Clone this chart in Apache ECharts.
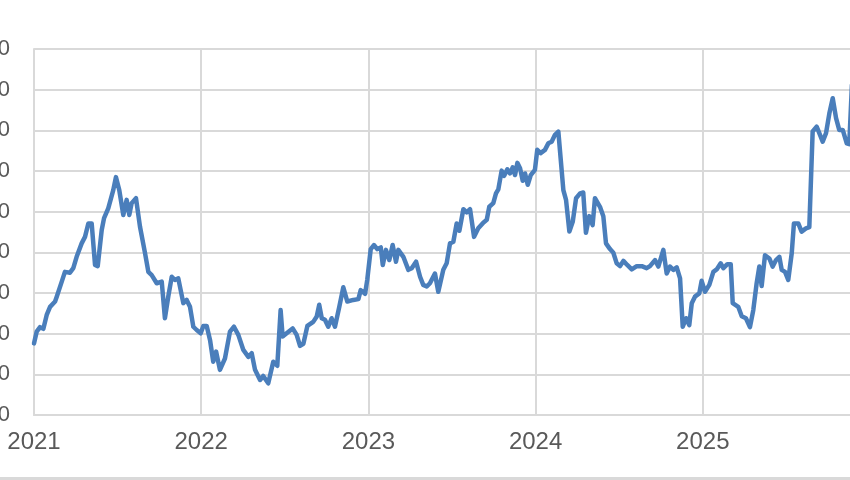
<!DOCTYPE html>
<html>
<head>
<meta charset="utf-8">
<script src="https://cdn.jsdelivr.net/npm/echarts@6/dist/echarts.min.js"></script>
<style>
  html, body { margin: 0; padding: 0; width: 850px; height: 480px; overflow: hidden; background: #fff; }
  #chart { position: absolute; left: -60px; top: 0; width: 1000px; height: 480px; }
</style>
</head>
<body>
<div id="chart"></div>
<script>
// Time positions as decimal years
const years = [
  2021.000, 2021.016, 2021.036, 2021.056, 2021.076, 2021.096, 2021.126, 2021.136, 2021.166, 2021.185,
  2021.215, 2021.235, 2021.255, 2021.285, 2021.305, 2021.325, 2021.345, 2021.365, 2021.381, 2021.405,
  2021.419, 2021.444, 2021.474, 2021.490, 2021.510, 2021.534, 2021.554, 2021.570, 2021.584, 2021.610,
  2021.634, 2021.664, 2021.684, 2021.704, 2021.734, 2021.764, 2021.783, 2021.803, 2021.824, 2021.843,
  2021.863, 2021.893, 2021.913, 2021.933, 2021.953, 2021.973, 2021.997, 2022.013, 2022.033, 2022.053,
  2022.072, 2022.089, 2022.112, 2022.142, 2022.172, 2022.196, 2022.222, 2022.252, 2022.282, 2022.302,
  2022.322, 2022.352, 2022.371, 2022.401, 2022.431, 2022.455, 2022.475, 2022.487, 2022.511, 2022.547,
  2022.571, 2022.591, 2022.611, 2022.635, 2022.670, 2022.691, 2022.706, 2022.721, 2022.740, 2022.760,
  2022.780, 2022.800, 2022.826, 2022.850, 2022.874, 2022.910, 2022.940, 2022.954, 2022.980, 2022.993,
  2023.014, 2023.033, 2023.053, 2023.074, 2023.086, 2023.105, 2023.125, 2023.145, 2023.165, 2023.179,
  2023.209, 2023.239, 2023.259, 2023.285, 2023.309, 2023.328, 2023.349, 2023.368, 2023.398, 2023.418,
  2023.448, 2023.468, 2023.488, 2023.508, 2023.528, 2023.544, 2023.568, 2023.588, 2023.608, 2023.632,
  2023.657, 2023.687, 2023.708, 2023.723, 2023.747, 2023.763, 2023.777, 2023.797, 2023.811, 2023.831,
  2023.847, 2023.863, 2023.877, 2023.891, 2023.907, 2023.923, 2023.937, 2023.953, 2023.971, 2023.996,
  2024.010, 2024.030, 2024.056, 2024.076, 2024.096, 2024.116, 2024.136, 2024.146, 2024.166, 2024.182,
  2024.202, 2024.222, 2024.242, 2024.266, 2024.285, 2024.301, 2024.321, 2024.341, 2024.355, 2024.385,
  2024.405, 2024.421, 2024.445, 2024.465, 2024.485, 2024.505, 2024.525, 2024.548, 2024.575, 2024.605,
  2024.635, 2024.664, 2024.684, 2024.714, 2024.734, 2024.764, 2024.784, 2024.804, 2024.824, 2024.844,
  2024.864, 2024.880, 2024.900, 2024.919, 2024.934, 2024.953, 2024.979, 2024.993, 2025.013, 2025.039,
  2025.063, 2025.083, 2025.107, 2025.123, 2025.147, 2025.167, 2025.179, 2025.212, 2025.233, 2025.258,
  2025.282, 2025.302, 2025.322, 2025.338, 2025.352, 2025.372, 2025.398, 2025.418, 2025.438, 2025.458,
  2025.472, 2025.492, 2025.511, 2025.532, 2025.545, 2025.571, 2025.591, 2025.617, 2025.637, 2025.657,
  2025.681, 2025.701, 2025.717, 2025.737, 2025.757, 2025.777, 2025.797, 2025.816, 2025.837, 2025.861,
  2025.876, 2025.892
];
const values = [
  17.6, 20.5, 21.6, 21.2, 24.6, 26.6, 27.9, 29.1, 32.8, 35.2,
  35.0, 36.1, 38.9, 42.2, 43.8, 47.1, 47.1, 36.9, 36.6, 45.5,
  48.4, 50.8, 55.3, 58.5, 55.3, 49.2, 52.9, 49.2, 52.1, 53.3,
  46.3, 39.8, 35.2, 34.4, 32.4, 32.8, 23.8, 29.1, 34.0, 33.2,
  33.6, 27.5, 28.3, 26.6, 21.7, 20.9, 20.1, 21.9, 21.9, 18.4,
  13.1, 15.6, 11.1, 13.9, 20.5, 21.7, 19.7, 16.0, 14.3, 15.2,
  11.1, 8.6, 9.6, 7.8, 13.1, 12.1, 25.8, 19.3, 20.1, 21.3,
  19.7, 17.0, 17.5, 21.9, 22.9, 24.2, 27.1, 23.8, 23.4, 21.7,
  23.8, 21.7, 26.6, 31.4, 27.9, 28.3, 28.5, 30.7, 29.8, 33.2,
  40.8, 41.8, 40.8, 41.2, 36.9, 40.6, 38.1, 41.8, 37.7, 40.6,
  38.9, 35.7, 36.1, 37.7, 34.0, 32.0, 31.6, 32.4, 34.8, 30.3,
  35.7, 37.3, 42.2, 42.6, 47.1, 45.3, 50.6, 49.8, 50.6, 43.8,
  45.9, 47.3, 48.0, 51.2, 52.1, 54.5, 55.5, 60.1, 58.8, 60.4,
  59.4, 60.9, 59.0, 62.0, 60.7, 57.6, 59.4, 56.6, 59.0, 60.3,
  65.2, 64.4, 65.2, 66.8, 67.2, 68.9, 69.7, 69.3, 55.3, 52.9,
  45.1, 47.5, 53.3, 54.5, 54.7, 44.8, 48.9, 46.7, 53.3, 51.2,
  48.9, 42.2, 40.8, 39.9, 37.3, 36.6, 37.9, 36.9, 35.8, 36.6,
  36.6, 36.1, 36.6, 38.1, 36.5, 40.6, 34.8, 36.5, 35.7, 36.3,
  33.6, 21.7, 23.8, 22.1, 27.5, 29.1, 29.9, 33.0, 30.3, 32.0,
  35.2, 35.8, 37.3, 36.1, 37.1, 37.1, 27.5, 26.6, 24.3, 23.8,
  21.6, 25.8, 32.4, 36.5, 31.7, 39.3, 38.5, 36.5, 38.1, 38.9,
  35.7, 35.2, 33.2, 39.8, 47.1, 47.1, 45.1, 45.9, 46.2, 69.7,
  70.9, 68.9, 67.2, 69.3, 74.2, 77.9, 73.0, 70.1, 70.1, 66.8,
  66.6, 81.2
];
const yearTicks = [2021, 2022, 2023, 2024, 2025, 2026];

const chart = echarts.init(document.getElementById('chart'), null, { renderer: 'canvas' });
const gray = '#d9d9d9';
chart.setOption({
  animation: false,
  backgroundColor: '#ffffff',
  grid: { left: 94, right: 70, top: 49, bottom: 65, containLabel: false },
  xAxis: {
    type: 'value',
    min: yearTicks[0],
    max: yearTicks[yearTicks.length - 1],
    interval: 1,
    axisLine: { show: true, lineStyle: { color: gray, width: 2 } },
    axisTick: { show: false },
    splitLine: { show: true, lineStyle: { color: gray, width: 2 } },
    axisLabel: {
      color: '#595959', fontSize: 24, fontFamily: 'Liberation Sans, Arial, sans-serif',
      margin: 15, showMaxLabel: false,
      formatter: v => (v >= yearTicks[yearTicks.length - 1] ? '' : String(v))
    }
  },
  yAxis: {
    type: 'value',
    min: 0, max: 90, interval: 10,
    axisLine: { show: true, lineStyle: { color: gray, width: 2 } },
    axisTick: { show: false },
    splitLine: { show: true, lineStyle: { color: gray, width: 2 } },
    axisLabel: {
      color: '#595959', fontSize: 22, fontFamily: 'Liberation Sans, Arial, sans-serif',
      margin: 24
    }
  },
  graphic: [{
    type: 'rect', left: 0, top: 477, shape: { width: 1000, height: 3 },
    style: { fill: gray }, silent: true
  }],
  series: [{
    type: 'line',
    data: years.map((t, i) => [t, values[i]]),
    showSymbol: false,
    lineStyle: { color: '#4a7ebb', width: 4.5, join: 'round', cap: 'round' },
    clip: true
  }]
});
</script>
</body>
</html>
